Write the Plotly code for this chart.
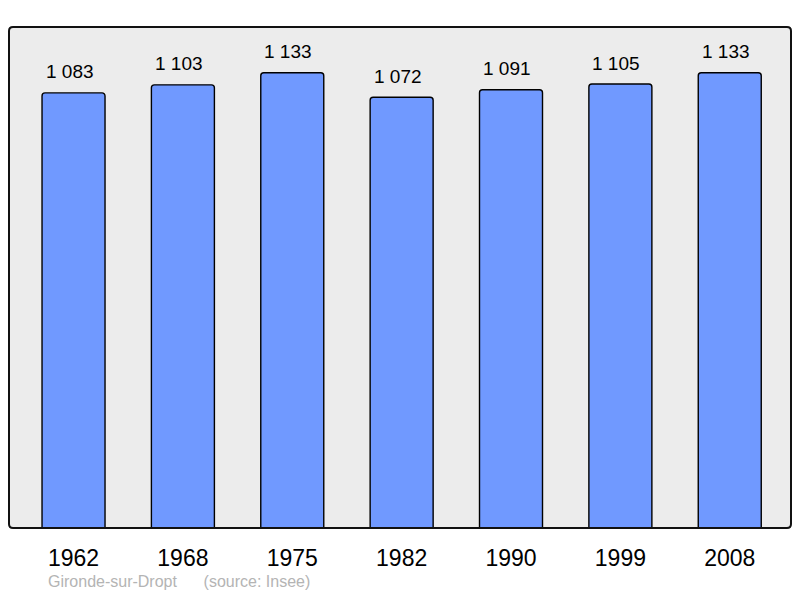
import plotly.graph_objects as go

# Population data (Insee)
years = ['1962', '1968', '1975', '1982', '1990', '1999', '2008']
population = [1083, 1103, 1133, 1072, 1091, 1105, 1133]
place = 'Gironde-sur-Dropt'
source = '(source: Insee)'

# page body has an 8px margin, so the figure is a bit smaller than the window
W, H = 784, 582
left, right, top, bottom = 1, 1, 19, 62
pw, ph = W - left - right, H - top - bottom

fig = go.Figure()
fig.add_trace(go.Bar(x=years, y=population, width=0.576,
                     marker=dict(color='#7099ff', line=dict(color='black', width=1.4), cornerradius=3),
                     hoverinfo='x+y'))

# value labels above bars (x given as category index)
for i, v in enumerate(population):
    fig.add_annotation(x=i, y=v, text=f'{v:,}'.replace(',', ' '), showarrow=False,
                       yanchor='middle', yshift=21, xshift=-4,
                       font=dict(family='Liberation Sans, Arial', size=19, color='black'))

# rounded frame around the plot area
rx, ry = 4 / pw, 4 / ph
frame = (f'M {rx},0 L {1 - rx},0 Q 1,0 1,{ry} L 1,{1 - ry} Q 1,1 {1 - rx},1 '
         f'L {rx},1 Q 0,1 0,{1 - ry} L 0,{ry} Q 0,0 {rx},0 Z')
fig.add_shape(type='path', path=frame, xref='paper', yref='paper',
              line=dict(color='#111111', width=2), layer='above')

# footer, kept inside the figure so it is not clipped
fig.add_annotation(x=(47 - 9) / pw, y=-(581 - 528) / ph, xref='paper', yref='paper',
                   text=f'{place}&nbsp;&nbsp;&nbsp;&nbsp;&nbsp;&nbsp;{source}', showarrow=False,
                   xanchor='left', yanchor='middle', borderpad=0,
                   font=dict(family='Liberation Sans, Arial', size=16, color='#b4b4b4'))

fig.update_xaxes(type='category', range=[-0.59, 6.56], showgrid=False, zeroline=False,
                 ticks='outside', ticklen=9, tickcolor='rgba(0,0,0,0)',
                 tickfont=dict(family='Liberation Sans, Arial', size=23, color='black'))
fig.update_yaxes(range=[0, 1247], showgrid=False, zeroline=False, showticklabels=False)
fig.update_layout(width=W, height=H, margin=dict(l=left, r=right, t=top, b=bottom),
                  plot_bgcolor='#ececec', paper_bgcolor='white', showlegend=False)

fig.write_html('out.html')
